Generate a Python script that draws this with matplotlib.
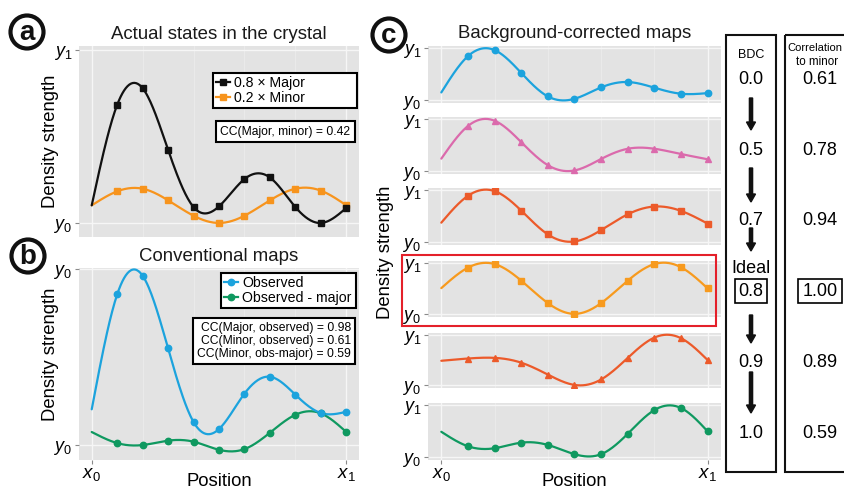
import numpy as np
import matplotlib
matplotlib.use("Agg")
import matplotlib.pyplot as plt
from matplotlib.patches import Circle, Rectangle, FancyArrow
from matplotlib.lines import Line2D

plt.rcParams['font.family'] = ['Liberation Sans', 'DejaVu Sans']
plt.rcParams['mathtext.fontset'] = 'custom'
plt.rcParams['mathtext.rm'] = 'Liberation Sans'
plt.rcParams['mathtext.it'] = 'Liberation Sans:italic'
plt.rcParams['mathtext.bf'] = 'Liberation Sans:bold'

# ---------------- data ----------------
position = [0, 1, 2, 3, 4, 5, 6, 7, 8, 9, 10]
x_tick_labels = ["$\\mathit{x}_0$", "$\\mathit{x}_1$"]

# panel a
major_08 = [0.102, 0.683, 0.779, 0.423, 0.092, 0.096, 0.254, 0.263, 0.092, 0.000, 0.087]
minor_02 = [0.102, 0.183, 0.198, 0.131, 0.042, 0.000, 0.042, 0.131, 0.198, 0.187, 0.102]
legend_a = ["0.8 \u00d7 Major", "0.2 \u00d7 Minor"]
cc_a = "CC(Major, minor) = 0.42"

# panel b
observed = [0.203, 0.856, 0.962, 0.549, 0.131, 0.091, 0.292, 0.388, 0.286, 0.182, 0.189]
obs_minus_major = [0.074, 0.011, 0.000, 0.025, 0.019, -0.027, -0.023, 0.070, 0.172, 0.180, 0.074]
legend_b = ["Observed", "Observed - major"]
cc_b = "CC(Major, observed) = 0.98\nCC(Minor, observed) = 0.61\nCC(Minor, obs-major) = 0.59"

# panel c (background-corrected maps)
map_bdc_00 = [0.148, 0.845, 0.961, 0.523, 0.071, 0.026, 0.245, 0.348, 0.239, 0.123, 0.135]
map_bdc_05 = [0.240, 0.867, 0.968, 0.557, 0.114, 0.013, 0.234, 0.430, 0.430, 0.329, 0.228]
map_bdc_07 = [0.374, 0.890, 0.980, 0.606, 0.148, 0.013, 0.232, 0.535, 0.684, 0.600, 0.355]
map_bdc_08 = [0.510, 0.910, 0.980, 0.656, 0.217, 0.006, 0.217, 0.656, 0.980, 0.917, 0.503]
map_bdc_09 = [0.487, 0.532, 0.545, 0.449, 0.212, 0.006, 0.115, 0.545, 0.949, 0.936, 0.500]
map_bdc_10 = [0.487, 0.209, 0.171, 0.278, 0.234, 0.057, 0.057, 0.449, 0.905, 0.943, 0.494]
bdc_labels = ["0.0", "0.5", "0.7", "0.8", "0.9", "1.0"]
corr_to_minor = ["0.61", "0.78", "0.94", "1.00", "0.89", "0.59"]

# ---------------- helpers ----------------
W, H = 845, 490
fig = plt.figure(figsize=(W / 100, H / 100), dpi=100)
fig.patch.set_facecolor("white")

PANEL_BG = "#E3E3E3"


def ax_px(l, t, r, b):
    return fig.add_axes([l / W, 1 - b / H, (r - l) / W, (b - t) / H])


def smooth(x, y, n=300):
    x = np.asarray(x, float)
    y = np.asarray(y, float)
    m = len(x)
    h = np.diff(x)
    A = np.zeros((m, m))
    rhs = np.zeros(m)
    A[0, 0] = 1
    A[-1, -1] = 1
    for i in range(1, m - 1):
        A[i, i - 1] = h[i - 1]
        A[i, i] = 2 * (h[i - 1] + h[i])
        A[i, i + 1] = h[i]
        rhs[i] = 3 * ((y[i + 1] - y[i]) / h[i] - (y[i] - y[i - 1]) / h[i - 1])
    c = np.linalg.solve(A, rhs)
    b = (y[1:] - y[:-1]) / h - h * (2 * c[:-1] + c[1:]) / 3
    d = (c[1:] - c[:-1]) / (3 * h)
    xs = np.linspace(x[0], x[-1], n)
    idx = np.clip(np.searchsorted(x, xs) - 1, 0, m - 2)
    dx = xs - x[idx]
    ys = y[idx] + b[idx] * dx + c[idx] * dx ** 2 + d[idx] * dx ** 3
    return xs, ys


def draw_series(ax, y, color, marker, ms=4.6):
    xs, ys = smooth(position, y)
    ax.plot(xs, ys, color=color, lw=1.6, zorder=3, solid_capstyle="round")
    ax.plot(position[1:], y[1:], ls="none", marker=marker, ms=ms, color=color, zorder=4)


def style_axis(ax, ylim, ylabels, show_x):
    ax.set_facecolor(PANEL_BG)
    for s in ax.spines.values():
        s.set_visible(False)
    ax.set_xlim(-0.5, 10.5)
    ax.set_ylim(*ylim)
    ax.set_xticks([0, 10])
    ax.set_xticks([2, 4, 6, 8], minor=True)
    ax.set_yticks([0, 1])
    ax.set_yticklabels(ylabels)
    ax.grid(which="major", color="#F6F6F6", lw=1.0, zorder=0)
    ax.grid(which="minor", axis="x", color="#EAEAEA", lw=0.8, zorder=0)
    ax.set_axisbelow(True)
    ax.tick_params(axis="y", length=3, width=0.8, color="#8A8A8A", labelsize=13, pad=2)
    ax.tick_params(which="minor", length=0)
    if show_x:
        ax.set_xticklabels(x_tick_labels)
        ax.tick_params(axis="x", length=3, width=0.8, color="#8A8A8A", labelsize=13.5, pad=1)
    else:
        ax.tick_params(axis="x", length=0, labelbottom=False)


C_BLACK = "#111111"
C_ORANGE_A = "#F7941D"
C_BLUE = "#1CA3DD"
C_GREEN = "#0F9960"
C_PINK = "#DB6AAC"
C_REDOR = "#EC5A2A"
C_ORANGE = "#F79A1E"

# ---------------- panel a ----------------
ax_a = ax_px(79, 46, 359, 237)
style_axis(ax_a, (-0.081, 1.023), ["$\\mathit{y}_0$", "$\\mathit{y}_1$"], False)
draw_series(ax_a, minor_02, C_ORANGE_A, "s", 4.2)
draw_series(ax_a, major_08, C_BLACK, "s", 4.2)
ax_a.set_title("Actual states in the crystal", fontsize=13.4, pad=5, color="#1a1a1a")
ax_a.set_ylabel("Density strength", fontsize=13.3)
ax_a.yaxis.set_label_coords(-0.072, 0.5)
hand_a = [Line2D([], [], color=C_BLACK, marker="s", ms=4.2, lw=1.6),
          Line2D([], [], color=C_ORANGE_A, marker="s", ms=4.2, lw=1.6)]
leg = ax_a.legend(hand_a, legend_a, loc="upper left",
                  bbox_to_anchor=(213 / W, 1 - 110 / H, 144 / W, 37 / H),
                  bbox_transform=fig.transFigure, mode="expand", borderaxespad=0,
                  fontsize=10.2, handlelength=1.0, handletextpad=0.3, borderpad=0.2,
                  labelspacing=0.1, fancybox=False, framealpha=1, edgecolor="black")
leg.get_frame().set_linewidth(1.5)

# ---------------- panel b ----------------
ax_b = ax_px(79, 268, 359, 460)
style_axis(ax_b, (-0.085, 1.006), ["$\\mathit{y}_0$", "$\\mathit{y}_0$"], True)
draw_series(ax_b, obs_minus_major, C_GREEN, "o")
draw_series(ax_b, observed, C_BLUE, "o")
ax_b.set_title("Conventional maps", fontsize=13.4, pad=5, color="#1a1a1a")
ax_b.set_ylabel("Density strength", fontsize=13.3)
ax_b.yaxis.set_label_coords(-0.072, 0.55)
ax_b.set_xlabel("Position", fontsize=13.3)
ax_b.xaxis.set_label_coords(0.5, -0.066)
hand_b = [Line2D([], [], color=C_BLUE, marker="o", ms=4.6, lw=1.6),
          Line2D([], [], color=C_GREEN, marker="o", ms=4.6, lw=1.6)]
leg = ax_b.legend(hand_b, legend_b, loc="upper left",
                  bbox_to_anchor=(221 / W, 1 - 311 / H, 135 / W, 38 / H),
                  bbox_transform=fig.transFigure, mode="expand", borderaxespad=0,
                  fontsize=10.2, handlelength=1.0, handletextpad=0.3, borderpad=0.2,
                  labelspacing=0.1, fancybox=False, framealpha=1, edgecolor="black")
leg.get_frame().set_linewidth(1.5)

# ---------------- panel c ----------------
c_maps = [map_bdc_00, map_bdc_05, map_bdc_07, map_bdc_08, map_bdc_09, map_bdc_10]
c_colors = [C_BLUE, C_PINK, C_REDOR, C_ORANGE, C_REDOR, C_GREEN]
c_markers = ["o", "^", "s", "s", "^", "o"]
c_rows = [(46, 103), (117, 174), (188, 245), (261, 317), (333, 388), (403, 460)]
c_axes = []
for i, (vals, col, mk, (t, b)) in enumerate(zip(c_maps, c_colors, c_markers, c_rows)):
    ax = ax_px(428, t, 721, b)
    last = i == len(c_maps) - 1
    style_axis(ax, (-0.055, 1.04), ["$\\mathit{y}_0$", "$\\mathit{y}_1$"], last)
    draw_series(ax, vals, col, mk, 4.6 if mk != "^" else 5.0)
    c_axes.append(ax)
c_axes[0].set_title("Background-corrected maps", fontsize=13.4, pad=6, color="#1a1a1a")
c_axes[-1].set_xlabel("Position", fontsize=13.3)
c_axes[-1].xaxis.set_label_coords(0.5, -0.228)

# ---------------- overlay (labels, boxes, arrows) ----------------
ov = fig.add_axes([0, 0, 1, 1], zorder=10)
ov.set_xlim(0, W)
ov.set_ylim(H, 0)
ov.set_axis_off()

for (cx, cy, letter) in [(27, 32, "a"), (28, 256, "b"), (389, 35, "c")]:
    ov.add_patch(Circle((cx, cy), 16.5, fill=False, lw=3.0, ec="#111111"))
    ov.text(cx, cy + 1, letter, ha="center", va="center", fontsize=20,
            fontweight="bold", color="#111111")

ov.text(386, 252, "Density strength", rotation=90, ha="center", va="center", fontsize=13.3)

ov.text(285.5, 131.5, cc_a, ha="center", va="center", fontsize=8.7,
        bbox=dict(boxstyle="square,pad=0.4", fc="white", ec="black", lw=1.5))
ov.text(351, 341, cc_b, ha="right", va="center", fontsize=8.7, multialignment="right",
        linespacing=1.12,
        bbox=dict(boxstyle="square,pad=0.35", fc="white", ec="black", lw=1.5))

# red highlight box around ideal map
ov.add_patch(Rectangle((402, 255), 314, 71, fill=False, ec="#E4202A", lw=1.5))

# BDC column and correlation column
ov.add_patch(Rectangle((726, 35), 50, 437, fill=False, ec="#111111", lw=1.5))
ov.add_patch(Rectangle((785, 35), 100, 437, fill=False, ec="#111111", lw=1.5))
ov.text(751, 55, "BDC", ha="center", va="center", fontsize=9)
ov.text(815, 48, "Correlation", ha="center", va="center", fontsize=8.0)
ov.text(817, 62, "to minor", ha="center", va="center", fontsize=8.4)

row_y = [79, 150, 220, 291, 362, 433]
for lab, cor, y in zip(bdc_labels, corr_to_minor, row_y):
    if lab == "0.8":
        box = dict(boxstyle="square,pad=0.22", fc="white", ec="black", lw=1.2)
    else:
        box = None
    ov.text(751, y, lab, ha="center", va="center", fontsize=13, bbox=box)
    ov.text(820, y, cor, ha="center", va="center", fontsize=13, bbox=box)
ov.text(751, 268, "Ideal", ha="center", va="center", fontsize=13)

for (y0, y1) in [(98, 130), (168, 202), (228, 251), (315, 343), (372, 413)]:
    ov.add_patch(FancyArrow(751, y0, 0, y1 - y0, width=3.2, head_width=9,
                            head_length=8, length_includes_head=True,
                            fc="#111111", ec="#111111"))

fig.savefig("out.png", dpi=100)
